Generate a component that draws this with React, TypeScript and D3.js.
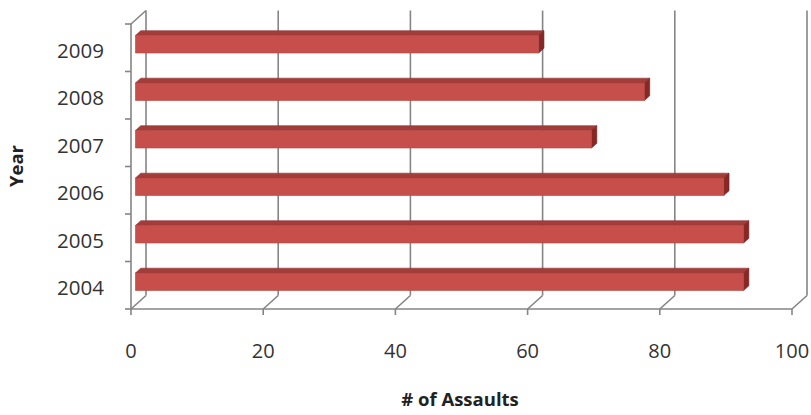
import React from "react";
import * as d3 from "d3";

const categories = ["2009", "2008", "2007", "2006", "2005", "2004"];
const assaults = [61, 77, 69, 89, 92, 92];
const xTicks = [0, 20, 40, 60, 80, 100];
const xTitle = "# of Assaults";
const yTitle = "Year";

const W = 811;
const H = 415;
const DX = 15;
const DY = 13.5;
const Z0 = 0.3;
const Z1 = 0.65;
const FONT = "'Open Sans', 'DejaVu Sans', sans-serif";

export default function App() {
  const x = d3.scaleLinear().domain([0, 100]).range([131, 792]);
  const y = d3.scaleBand<string>().domain(categories).range([24, 309]);
  const floorY = 309;
  const topY = 24;
  const P = (v: number, yy: number, z: number): [number, number] => [x(v) + z * DX, yy - z * DY];
  const poly = (pts: [number, number][]) => pts.map((p) => p.join(",")).join(" ");
  const h = 8.8;
  const grid = "#858585";
  const gw = 1.6;

  return (
    <svg width={W} height={H} style={{ position: "absolute", left: 0, top: 0, background: "#fff" }}>
      {xTicks.map((t) => (
        <line key={"bg" + t} x1={x(t) + DX} x2={x(t) + DX} y1={topY - DY} y2={floorY - DY} stroke={grid} strokeWidth={gw} />
      ))}
      {xTicks.map((t) => (
        <line key={"fd" + t} x1={x(t)} x2={x(t) + DX} y1={floorY} y2={floorY - DY} stroke={grid} strokeWidth={gw} />
      ))}
      <line x1={x(0)} x2={x(100)} y1={floorY} y2={floorY} stroke={grid} strokeWidth={gw} />
      <line x1={x(0)} x2={x(0)} y1={topY} y2={floorY} stroke={grid} strokeWidth={gw} />
      <line x1={x(0)} x2={x(0) + DX} y1={topY} y2={topY - DY} stroke={grid} strokeWidth={gw} />
      {categories.map((c) => (
        <line key={"lt" + c} x1={x(0) - 6} x2={x(0)} y1={y(c)!} y2={y(c)!} stroke={grid} strokeWidth={gw} />
      ))}
      <line x1={x(0) - 6} x2={x(0)} y1={floorY} y2={floorY} stroke={grid} strokeWidth={gw} />
      {xTicks.map((t) => (
        <line key={"bt" + t} x1={x(t)} x2={x(t)} y1={floorY} y2={floorY + 6} stroke={grid} strokeWidth={gw} />
      ))}
      {categories.map((c, i) => {
        const v = assaults[i];
        const yc = y(c)! + y.bandwidth() / 2 + 0.5;
        const front: [number, number][] = [P(0, yc - h, Z0), P(v, yc - h, Z0), P(v, yc + h, Z0), P(0, yc + h, Z0)];
        const top: [number, number][] = [P(0, yc - h, Z0), P(v, yc - h, Z0), P(v, yc - h, Z1), P(0, yc - h, Z1)];
        const side: [number, number][] = [P(v, yc - h, Z0), P(v, yc - h, Z1), P(v, yc + h, Z1), P(v, yc + h, Z0)];
        return (
          <g key={"bar" + c}>
            <polygon points={poly(top)} fill="#a33d3a" stroke="#8f3330" strokeWidth={0.6} />
            <polygon points={poly(side)} fill="#862926" stroke="#7a2421" strokeWidth={0.6} />
            <polygon points={poly(front)} fill="#c64f4b" stroke="#b2433f" strokeWidth={0.6} />
          </g>
        );
      })}
      {categories.map((c) => (
        <text key={"cl" + c} x={104} y={y(c)! + y.bandwidth() / 2 + 10} textAnchor="end" fontFamily={FONT} fontSize={20.5} fill="#333">
          {c}
        </text>
      ))}
      {xTicks.map((t) => (
        <text key={"xl" + t} x={x(t)} y={358} textAnchor="middle" fontFamily={FONT} fontSize={20} fill="#333">
          {t}
        </text>
      ))}
      <text x={460} y={406} textAnchor="middle" fontFamily={FONT} fontSize={18.5} fontWeight="bold" fill="#222">
        {xTitle}
      </text>
      <text transform="translate(23,166) rotate(-90)" textAnchor="middle" fontFamily={FONT} fontSize={18.5} fontWeight="bold" fill="#222">
        {yTitle}
      </text>
    </svg>
  );
}
